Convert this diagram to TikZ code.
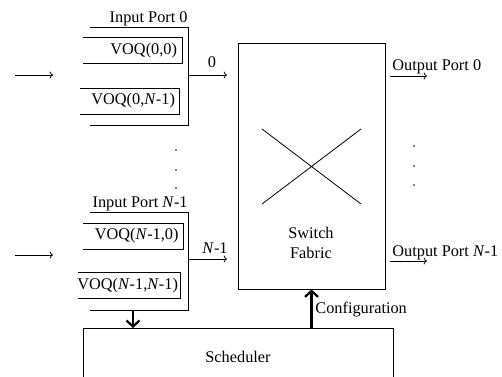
\documentclass[tikz,border=0pt]{standalone}
\usepackage{fontspec}
\setmainfont{Liberation Serif}
\usetikzlibrary{arrows.meta}
\begin{document}
\begin{tikzpicture}[x=1pt,y=-1pt, line width=0.8pt,
  font=\fontsize{16.3}{19}\selectfont,
  voq/.style={minimum height=25pt, inner sep=0pt},
  lbl/.style={inner sep=0pt},
  thin arrow/.style={->},
  thick arrow/.style={-{Straight Barb[length=6pt,width=13pt]}, line width=2.2pt},
  dot/.style={circle, fill=black, inner sep=0pt, minimum size=1.6pt}]
\useasboundingbox (0,0) rectangle (502,376);
\clip (0,0) rectangle (502,376);

% switch fabric
\node[draw, minimum width=147pt, minimum height=246pt, inner sep=0pt] (fab) at (311.5,166) {};
\coordinate (xa) at (262,129); \coordinate (xb) at (361,204);
\coordinate (xc) at (361,129); \coordinate (xd) at (262,204);
\draw (xa) -- (xb) (xc) -- (xd);
\node[lbl, align=center] (fabtxt) at (311,243) {Switch\\[1pt]Fabric};

% scheduler
\node[draw, minimum width=310pt, minimum height=80pt, inner sep=0pt, anchor=north west] (sch) at (83,328) {};
\node[lbl, anchor=base] (schtxt) at (238,362) {Scheduler};

% input port 0
\coordinate (p0a) at (90,27); \coordinate (p0b) at (188,27);
\coordinate (p0c) at (188,125); \coordinate (p0d) at (90,125);
\draw (p0a) -- (p0b) -- (p0c) -- (p0d);
\node[lbl, anchor=base east] (p0t) at (188,22) {Input Port 0};
\node[voq, minimum width=99pt] (v00) at (132.5,50.5) {};
\draw (v00.north west) -- (v00.north east) -- (v00.south east) -- (v00.south west);
\node[lbl, anchor=east] (v00t) at ([xshift=-5pt]v00.east) {VOQ(0,0)};
\node[voq, minimum width=99pt] (v0N) at (129.5,101) {};
\draw (v0N.north west) -- (v0N.north east) -- (v0N.south east) -- (v0N.south west);
\node[lbl, anchor=east] (v0Nt) at ([xshift=-4pt]v0N.east) {VOQ(0,\textit{N}-1)};

% input port N-1
\coordinate (pNa) at (90,212); \coordinate (pNb) at (188,212);
\coordinate (pNc) at (188,310); \coordinate (pNd) at (90,310);
\draw (pNa) -- (pNb) -- (pNc) -- (pNd);
\node[lbl, anchor=base east] (pNt) at (188,207) {Input Port \textit{N}-1};
\node[voq, minimum width=99pt] (vN0) at (133,236) {};
\draw (vN0.north west) -- (vN0.north east) -- (vN0.south east) -- (vN0.south west);
\node[lbl, anchor=east] (vN0t) at ([xshift=-4pt]vN0.east) {VOQ(\textit{N}-1,0)};
\node[voq, minimum width=102pt] (vNN) at (129,285.5) {};
\draw (vNN.north west) -- (vNN.north east) -- (vNN.south east) -- (vNN.south west);
\node[lbl, anchor=east] (vNNt) at ([xshift=-2pt]vNN.east) {VOQ(\textit{N}-1,\textit{N}-1)};

% input arrows
\coordinate (i0s) at (15,75); \coordinate (i0e) at (53,75);
\coordinate (iNs) at (15,255); \coordinate (iNe) at (53,255);
\draw[thin arrow] (i0s) -- (i0e);
\draw[thin arrow] (iNs) -- (iNe);

% port to fabric arrows
\coordinate (o0s) at (188,75); \coordinate (o0e) at (227,75);
\coordinate (oNs) at (188,259); \coordinate (oNe) at (227,259);
\draw[thin arrow] (o0s) -- (o0e);
\draw[thin arrow] (oNs) -- (oNe);
\node[lbl, anchor=base] (o0t) at (212,67) {0};
\node[lbl, anchor=base] (oNt) at (215,253) {\textit{N}-1};

% output arrows
\coordinate (q0s) at (390,76); \coordinate (q0e) at (427,76);
\coordinate (qNs) at (390,261); \coordinate (qNe) at (427,261);
\draw[thin arrow] (q0s) -- (q0e);
\draw[thin arrow] (qNs) -- (qNe);
\node[lbl, anchor=base west] (q0t) at (392,70) {Output Port 0};
\node[lbl, anchor=base west] (qNt) at (392,256) {Output Port \textit{N}-1};

% dots
\node[dot] (ld1) at (176,150) {}; \node[dot] (ld2) at (176,170) {}; \node[dot] (ld3) at (176,188) {};
\node[dot] (rd1) at (414,146) {}; \node[dot] (rd2) at (414,166) {}; \node[dot] (rd3) at (414,185) {};

% thick arrows
\draw[thick arrow] (pNc -| 133,0) -- (sch.north -| 133,0);
\draw[thick arrow] (sch.north -| fab.south) -- (fab.south);
\node[lbl, anchor=base west] (cfg) at (315,313) {Configuration};
\end{tikzpicture}
\end{document}
